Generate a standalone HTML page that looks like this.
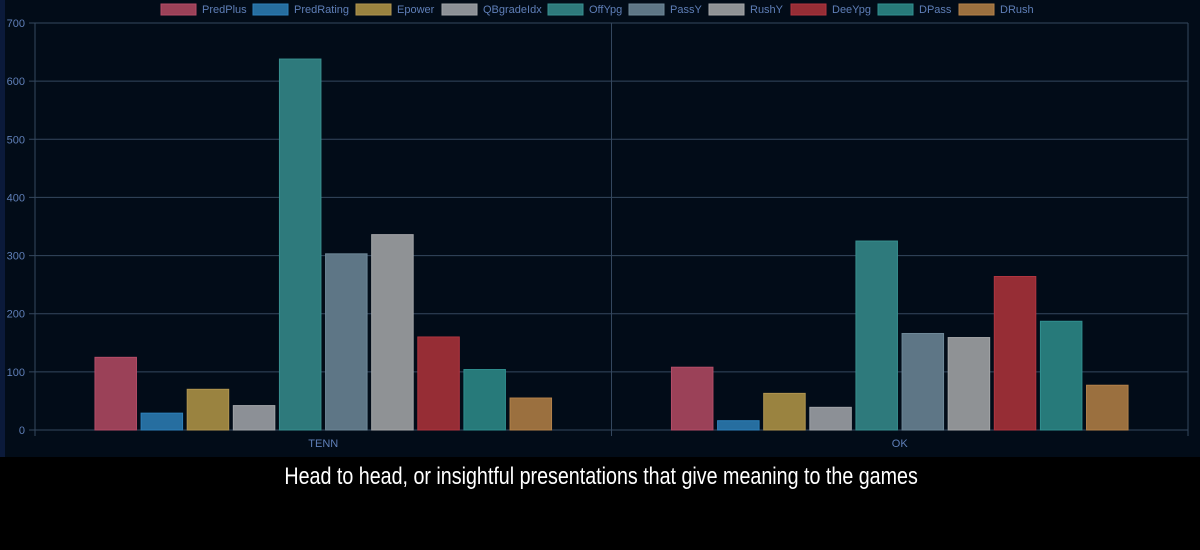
<!DOCTYPE html>
<html><head><meta charset="utf-8"><style>
body{margin:0;width:1200px;height:550px;background:#000;overflow:hidden;font-family:"Liberation Sans",sans-serif}
#panel{position:absolute;left:0;top:0;width:1200px;height:457px;background:#020c18;border-left:5px solid #0b1a3a;box-sizing:border-box}
#cap{position:absolute;left:0;top:463px;width:1200px;text-align:center;color:#fff;font-family:"Liberation Sans Narrow","Liberation Sans",sans-serif;font-stretch:condensed;font-size:24px;transform:scaleX(0.82);transform-origin:606px 0}
svg{position:absolute;left:0;top:0}
</style></head><body>
<div id="panel"></div>
<svg id="chart" width="1200" height="457"></svg>
<div id="cap">Head to head, or insightful presentations that give meaning to the games</div>
<script>
const categories=["TENN","OK"];
const seriesNames=["PredPlus","PredRating","Epower","QBgradeIdx","OffYpg","PassY","RushY","DeeYpg","DPass","DRush"];
const tennValues=[125,29,70,42,638,303,336,160,104,55];
const okValues=[108,16,63,39,325,166,159,264,187,77];
const yTicks=[0,100,200,300,400,500,600,700];
const colors=["#9b4158","#266ea0","#9a8340","#8c9096","#2e7a7c","#5e7686","#8f9295","#962d35","#277a7a","#9b703f"];
const borders=["#b44d68","#2d80ba","#b09550","#a0a4a8","#38908f","#6e8898","#a4a6a8","#b03540","#309090","#b4824a"];
const legendX=[161,253,356,442,548,629,709,791,878,959];
const NS="http://www.w3.org/2000/svg";
const svg=document.getElementById('chart');
const X0=35,X1=1188,Y0=430,Y700=23;
const y=v=>Y0-(v/700)*(Y0-Y700);
const catW=(X1-X0)/categories.length;
function mk(t,a){const e=document.createElementNS(NS,t);for(const k in a)e.setAttribute(k,a[k]);svg.appendChild(e);return e;}
yTicks.forEach(t=>{
 const l=mk('line',{x1:X0-6,x2:X1,y1:y(t),y2:y(t),stroke:'#34475e','stroke-width':1});
 
 
 const tx=mk('text',{x:X0-10,y:y(t)+4,'text-anchor':'end',fill:'#5f7fb8','font-size':11});
 tx.textContent=t;
 
 
});
for(let i=0;i<=categories.length;i++){
 const xx=X0+i*catW;
 const l=mk('line',{x1:xx,x2:xx,y1:Y700,y2:Y0+6,stroke:'#34475e','stroke-width':1});
 
 
}
const data=[tennValues,okValues];
categories.forEach((c,ci)=>{
 const start=X0+ci*catW+catW*0.1, step=catW*0.8/seriesNames.length, bw=step*0.9;
 data[ci].forEach((v,si)=>{
  const bx=start+si*step+(step-bw)/2;
  const r=mk('rect',{x:bx,y:y(v),width:bw,height:Y0-y(v),fill:colors[si],stroke:borders[si],'stroke-width':1});
  
  
 });
 const t=mk('text',{x:X0+ci*catW+catW/2,y:447,'text-anchor':'middle',fill:'#5f7fb8','font-size':11});
 t.textContent=c;
 
 
});
seriesNames.forEach((n,i)=>{
 const r=mk('rect',{x:legendX[i],y:4,width:35,height:11,fill:colors[i],stroke:borders[i]});
 
 
 const t=mk('text',{x:legendX[i]+41,y:13,fill:'#5f7fb8','font-size':11});
 t.textContent=n;
 
 
});
</script>
</body></html>
